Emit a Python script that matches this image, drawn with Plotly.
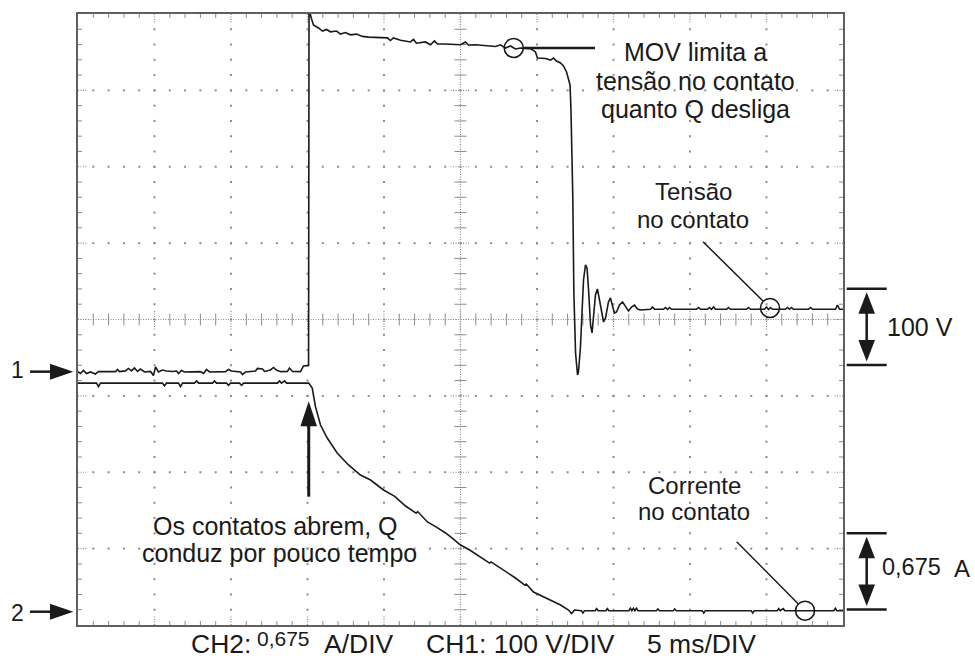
import plotly.graph_objects as go

# ---------------------------------------------------------------------------
# Scope settings
# ---------------------------------------------------------------------------
MS_PER_DIV = 5          # time base
V_PER_DIV = 100         # CH1 (voltage across the contact)
A_PER_DIV = 0.675       # CH2 (current through the contact)
X_DIVS, Y_DIVS, SUBDIV = 10, 8, 5
CH1_POS_DIV = -0.683    # CH1 ground marker, in divisions from screen centre
CH2_POS_DIV = -3.826    # CH2 ground marker

# CH1: voltage across the contact (ms, V)
ch1_t = [0.00, 0.16, 0.36, 0.56, 0.82, 1.14, 1.34, 2.45, 2.58, 2.71, 3.10, 3.30,
         3.50, 3.69, 3.89, 4.08, 4.35, 4.74, 4.93, 5.07, 5.26, 5.52, 5.78, 6.18,
         6.44, 6.57, 6.76, 6.96, 8.00, 8.20, 8.40, 8.60, 9.64, 9.84, 10.03, 10.62,
         10.75, 10.95, 11.60, 11.73, 12.06, 12.19, 12.58, 12.78, 12.97, 13.24, 13.69,
         13.82, 14.02, 14.54, 14.74, 15.07, 15.10, 15.16, 15.20, 15.39, 15.72, 15.98,
         16.24, 16.50, 16.90, 17.16, 17.48, 17.81, 18.20, 18.59, 18.99, 19.77, 20.23,
         20.42, 20.62, 21.08, 21.73, 21.93, 22.12, 22.71, 23.04, 23.30, 23.50, 24.02,
         25.00, 25.33, 25.52, 25.98, 26.96, 27.29, 27.61, 27.94, 28.27, 28.59, 28.92,
         29.58, 29.90, 30.03, 30.56, 30.88, 31.08, 31.27, 31.54, 31.73, 31.93, 32.06,
         32.16, 32.22, 32.34, 32.41, 32.52, 32.65, 32.71, 32.84, 32.97, 33.04, 33.17,
         33.27, 33.37, 33.50, 33.60, 33.69, 33.82, 33.95, 34.08, 34.22, 34.35, 34.48,
         34.67, 34.80, 34.93, 35.06, 35.20, 35.39, 35.59, 35.78, 35.98, 36.18, 36.37,
         36.57, 36.76, 37.42, 37.55, 37.68, 38.27, 38.40, 38.53, 38.66, 38.79, 40.43,
         40.56, 40.69, 41.14, 41.27, 41.40, 41.54, 41.67, 42.39, 42.52, 42.65, 43.69,
         43.82, 43.95, 44.87, 45.00, 45.13, 45.26, 45.39, 46.24, 46.37, 46.50, 46.63,
         46.76, 47.75, 47.88, 48.01, 49.51, 49.64, 49.77, 50.00]
ch1_v = [0.0, -2.4, 1.6, -2.4, -0.4, -3.0, 0.3, 0.0, 2.9, 0.0, 1.0, 4.2,
         1.0, 4.8, 0.3, 3.5, -0.4, 0.3, -5.0, 6.2, -0.4, 2.2, 0.9, 0.3,
         0.9, -2.4, 1.6, -0.4, 0.0, -2.4, 2.9, -0.4, 0.0, 2.9, 0.9, -0.4,
         -3.7, -0.4, 0.9, 4.2, 3.5, 0.3, 2.2, 5.5, 2.2, 0.0, 0.3,
         4.8, 0.3, 0.0, 7.5, 8.1, 475.0, 472.0, 466.0, 454.0, 450.0, 446.0,
         448.0, 445.0, 446.0, 442.0, 444.0, 441.0, 442.0, 439.0, 438.0, 437.5, 437.0,
         433.6, 437.0, 434.0, 431.7, 435.0, 430.0, 431.7, 428.0, 433.0, 429.0, 429.0,
         428.0, 431.7, 427.7, 428.0, 426.4, 425.8, 428.0, 423.8, 426.4, 422.5, 423.8,
         423.0, 418.6, 410.7, 410.0, 408.0, 410.7, 406.8, 404.2, 400.3, 392.4, 384.5,
         375.4, 342.6, 228.7, 103.0, 24.5, -4.3, -0.4, 32.3, 93.9, 120.0, 139.7,
         135.8, 107.0, 61.0, 50.7, 67.8, 100.4, 108.3, 93.9, 74.2, 65.0, 70.3,
         91.3, 96.5, 87.3, 76.8, 78.1, 87.3, 91.3, 86.0, 79.5, 84.7, 87.3,
         82.1, 80.8, 81.7, 84.7, 81.7, 81.7, 84.0, 81.4, 84.0, 81.7, 81.7,
         84.0, 81.7, 81.7, 84.0, 81.7, 84.7, 81.7, 81.7, 84.0, 81.7, 81.7,
         84.0, 81.7, 81.7, 84.7, 81.4, 84.0, 81.7, 81.7, 84.0, 81.7, 84.0,
         81.7, 81.7, 84.0, 81.7, 81.7, 87.3, 81.7, 81.7]

# CH2: current through the contact (ms, A)
ch2_t = [0.00, 1.21, 1.34, 1.47, 5.52, 5.65, 5.78, 6.57, 6.70, 6.83, 7.61, 7.75,
         7.88, 8.79, 8.92, 9.05, 9.71, 9.84, 9.97, 10.56, 10.69, 10.82, 13.04, 13.17,
         13.30, 13.50, 13.63, 15.08, 15.31, 15.52, 15.85, 16.29, 16.94, 17.68, 18.46,
         19.12, 19.97, 20.60, 20.70, 21.41, 22.10, 22.20, 22.84, 23.40, 24.02, 24.50,
         25.00, 25.60, 26.31, 26.90, 27.00, 27.61, 28.59, 29.20, 29.30, 29.77, 30.56,
         31.54, 32.06, 32.26, 32.45, 32.90, 33.00, 33.10, 33.80, 33.90, 34.00, 34.50,
         34.60, 34.70, 36.00, 36.10, 36.20, 36.30, 36.40, 36.50, 36.60, 37.80, 37.90,
         38.00, 38.90, 39.00, 39.10, 40.80, 40.90, 41.00, 44.00, 44.10, 44.20, 45.70,
         45.80, 45.90, 46.10, 46.20, 49.40, 49.50, 49.60, 50.00]
ch2_i = [2.02, 2.02, 1.99, 2.02, 2.02, 1.995, 2.02, 2.02, 1.99, 2.02, 2.02, 2.04,
         2.02, 2.02, 2.04, 2.02, 2.02, 2.00, 2.02, 2.02, 2.00, 2.02, 2.02, 2.04,
         2.02, 2.04, 2.02, 2.02, 1.977, 1.812, 1.650, 1.535, 1.403, 1.297, 1.208,
         1.164, 1.076, 1.030, 1.020, 0.934, 0.870, 0.885, 0.793, 0.750, 0.696, 0.645,
         0.589, 0.545, 0.483, 0.430, 0.440, 0.386, 0.298, 0.235, 0.245, 0.174, 0.121,
         0.059, 0.015, -0.016, 0.015, 0.009, -0.012, 0.009, 0.009, 0.027, 0.009, 0.009,
         0.027, 0.009, 0.009, 0.030, 0.009, 0.030, 0.009, 0.030, 0.009, 0.009, 0.024,
         0.009, 0.009, 0.024, 0.009, 0.009, -0.012, 0.009, 0.009, -0.012, 0.009, 0.009,
         0.027, 0.009, 0.027, 0.009, 0.009, 0.030, 0.009, 0.009]

MOV_TEXT = ["MOV limita a", "tensão no contato", "quanto Q desliga"]
VOLT_TEXT = ["Tensão", "no contato"]
CURR_TEXT = ["Corrente", "no contato"]
OPEN_TEXT = ["Os contatos abrem, Q", "conduz por pouco tempo"]
FOOTER = [("CH2:", 26.5), ("0,675", 21), ("A/DIV", 26.5), ("CH1: 100 V/DIV", 26.5), ("5 ms/DIV", 26.5)]

# ---------------------------------------------------------------------------
# Geometry helpers
# ---------------------------------------------------------------------------
W, H = 975, 661
ML, MR, MT, MB = 78, 132, 14, 36
PW, PH = W - ML - MR, H - MT - MB
T_RANGE = [0, X_DIVS * MS_PER_DIV]
Y_RANGE = [-Y_DIVS / 2, Y_DIVS / 2]
PX_MS = PW / (T_RANGE[1] - T_RANGE[0])
PX_DIV = PH / (Y_RANGE[1] - Y_RANGE[0])

FONT = "Arial, 'Liberation Sans', sans-serif"
INK = "#1a1a1a"
GRID = "#8c8c8c"


def to_px(t, d):
    return ML + (t - T_RANGE[0]) * PX_MS, MT + (Y_RANGE[1] - d) * PX_DIV


def paper(px, py):
    return (px - ML) / PW, (MT + PH - py) / PH


def interp(t, ts, vs):
    for k in range(1, len(ts)):
        if ts[k] >= t:
            f = (t - ts[k - 1]) / (ts[k] - ts[k - 1])
            return vs[k - 1] + f * (vs[k] - vs[k - 1])
    return vs[-1]


ch1_div = [CH1_POS_DIV + v / V_PER_DIV for v in ch1_v]
ch2_div = [CH2_POS_DIV + i / A_PER_DIV for i in ch2_i]

fig = go.Figure()

# ---------------------------------------------------------------------------
# Graticule
# ---------------------------------------------------------------------------
minor_t = MS_PER_DIV / SUBDIV
minor_d = 1 / SUBDIV
mid_t = (T_RANGE[0] + T_RANGE[1]) / 2

dots_x, dots_y = [], []
for i in range(1, X_DIVS):
    if i == X_DIVS // 2:
        continue
    for j in range(1, Y_DIVS * SUBDIV):
        dots_x.append(i * MS_PER_DIV)
        dots_y.append(Y_RANGE[0] + j * minor_d)
for k in range(1, Y_DIVS):
    if k == Y_DIVS // 2:
        continue
    for j in range(1, X_DIVS * SUBDIV):
        dots_x.append(j * minor_t)
        dots_y.append(Y_RANGE[0] + k)

tick_x, tick_y = [], []
major_x, major_y = [], []


def seg(xs, ys, x0, y0, x1, y1):
    xs += [x0, x1, None]
    ys += [y0, y1, None]


edge_t = 4 / PX_MS
edge_d = 4 / PX_DIV
long_t = 10 / PX_MS
long_d = 10 / PX_DIV
c_t = 6 / PX_MS
c_d = 6 / PX_DIV

for j in range(1, X_DIVS * SUBDIV):
    t = j * minor_t
    major = j % SUBDIV == 0
    if major:
        seg(major_x, major_y, t, Y_RANGE[1], t, Y_RANGE[1] - long_d)
        seg(major_x, major_y, t, Y_RANGE[0], t, Y_RANGE[0] + long_d)
        seg(major_x, major_y, t, -long_d, t, long_d)
    else:
        seg(tick_x, tick_y, t, Y_RANGE[1], t, Y_RANGE[1] - edge_d)
        seg(tick_x, tick_y, t, Y_RANGE[0], t, Y_RANGE[0] + edge_d)
        seg(tick_x, tick_y, t, -c_d, t, c_d)

for j in range(1, Y_DIVS * SUBDIV):
    d = Y_RANGE[0] + j * minor_d
    major = j % SUBDIV == 0
    if major:
        seg(major_x, major_y, T_RANGE[0], d, T_RANGE[0] + long_t, d)
        seg(major_x, major_y, T_RANGE[1], d, T_RANGE[1] - long_t, d)
        seg(major_x, major_y, mid_t - long_t, d, mid_t + long_t, d)
    else:
        seg(tick_x, tick_y, T_RANGE[0], d, T_RANGE[0] + edge_t, d)
        seg(tick_x, tick_y, T_RANGE[1], d, T_RANGE[1] - edge_t, d)
        seg(tick_x, tick_y, mid_t - c_t, d, mid_t + c_t, d)

centre_x, centre_y = [], []
seg(centre_x, centre_y, T_RANGE[0], 0, T_RANGE[1], 0)
seg(centre_x, centre_y, mid_t, Y_RANGE[0], mid_t, Y_RANGE[1])

fig.add_trace(go.Scatter(x=dots_x, y=dots_y, mode="markers", hoverinfo="skip",
                         marker=dict(symbol="square", size=2, color=GRID, line=dict(width=0))))
fig.add_trace(go.Scatter(x=tick_x, y=tick_y, mode="lines", hoverinfo="skip",
                         line=dict(color=GRID, width=1)))
fig.add_trace(go.Scatter(x=major_x, y=major_y, mode="lines", hoverinfo="skip",
                         line=dict(color=GRID, width=1.2, dash="1px,1.5px")))
fig.add_trace(go.Scatter(x=centre_x, y=centre_y, mode="lines", hoverinfo="skip",
                         line=dict(color=GRID, width=1.2, dash="1px,1.5px")))

# ---------------------------------------------------------------------------
# Waveforms
# ---------------------------------------------------------------------------
fig.add_trace(go.Scatter(x=ch1_t, y=ch1_div, mode="lines", name="CH1",
                         line=dict(color=INK, width=1.6)))
fig.add_trace(go.Scatter(x=ch2_t, y=ch2_div, mode="lines", name="CH2",
                         line=dict(color=INK, width=1.6)))

# circled points on the traces
T_MOV, T_VOLT, T_CURR = 28.48, 45.23, 47.52
circ_t = [T_MOV, T_VOLT, T_CURR]
circ_d = [CH1_POS_DIV + interp(T_MOV, ch1_t, ch1_v) / V_PER_DIV,
          CH1_POS_DIV + interp(T_VOLT, ch1_t, ch1_v) / V_PER_DIV,
          CH2_POS_DIV + interp(T_CURR, ch2_t, ch2_i) / A_PER_DIV]
fig.add_trace(go.Scatter(x=circ_t, y=circ_d, mode="markers", hoverinfo="skip",
                         marker=dict(symbol="circle-open", size=19, color=INK,
                                     line=dict(width=1.6, color=INK))))

# ---------------------------------------------------------------------------
# Callouts
# ---------------------------------------------------------------------------
shapes, annotations = [], []


def pline(x0, y0, x1, y1, width):
    a, b = paper(x0, y0)
    c, d = paper(x1, y1)
    shapes.append(dict(type="line", xref="paper", yref="paper", x0=a, y0=b, x1=c, y1=d,
                       line=dict(color=INK, width=width)))


def ptri(pts):
    pp = [paper(x, y) for x, y in pts]
    path = "M {} {} L {} {} L {} {} Z".format(*[v for p in pp for v in p])
    shapes.append(dict(type="path", xref="paper", yref="paper", path=path,
                       fillcolor=INK, line=dict(width=0)))


def label(text, px, py, size, anchor="center"):
    xp, yp = paper(px, py)
    annotations.append(dict(text=text, x=xp, y=yp, xref="paper", yref="paper",
                            xanchor=anchor, yanchor="middle", showarrow=False,
                            font=dict(family=FONT, size=size, color=INK)))


R = 9.5
circ_px = [to_px(t, d) for t, d in zip(circ_t, circ_d)]

# MOV clamp callout
cx, cy = circ_px[0]
pline(cx + R, cy, 595, cy, 2.5)
for txt, y in zip(MOV_TEXT, [51.7, 80.6, 108.6]):
    label(txt, 695, y, 25)


def leader(x0, y0, c):
    cx, cy = c
    dx, dy = cx - x0, cy - y0
    n = (dx * dx + dy * dy) ** 0.5
    pline(x0, y0, cx - dx / n * R, cy - dy / n * R, 1.5)


leader(703, 241.7, circ_px[1])
for txt, y in zip(VOLT_TEXT, [191.0, 219.2]):
    label(txt, 693, y, 24)

leader(736.7, 541.7, circ_px[2])
for txt, y in zip(CURR_TEXT, [485.0, 511.7]):
    label(txt, 694, y, 24)

# contacts open arrow, pointing at the start of the current decay
kx, ky = to_px(ch2_t[27], ch2_div[27])
tip_y = ky + 18
pline(kx, tip_y + 22, kx, 496.7, 3)
ptri([(kx, tip_y), (kx - 8.3, tip_y + 25), (kx + 8.3, tip_y + 25)])
label(OPEN_TEXT[0], 275, 526.4, 25)
label(OPEN_TEXT[1], 279.5, 553.1, 25)

# channel ground markers
for name, pos in (("1", CH1_POS_DIV), ("2", CH2_POS_DIV)):
    _, gy = to_px(0, pos)
    pline(30, gy, 52, gy, 2.5)
    ptri([(73.3, gy), (50, gy - 8), (50, gy + 8)])
    label(name, 17.5, gy - 1.5 if name == "1" else gy + 1.5, 23)


# scale brackets
def bracket(bottom):
    top = bottom - PX_DIV
    ax = 866.7
    pline(846.7, top, 886.7, top, 2.5)
    pline(846.7, bottom, 886.7, bottom, 2.5)
    pline(ax, top + 20, ax, bottom - 20, 2.5)
    ptri([(ax, top + 3.5), (ax - 8.3, top + 25), (ax + 8.3, top + 25)])
    ptri([(ax, bottom - 3.5), (ax - 8.3, bottom - 25), (ax + 8.3, bottom - 25)])
    return top, bottom


t1, b1 = bracket(365.0)
label("100 V", 920, (t1 + b1) / 2, 25)
t2, b2 = bracket(609.5)
label("0,675", 912, 566.7, 23.5)
label("A", 961.7, 568, 24)

# footer with the channel settings
footer_x = [189, 255, 322, 424, 645]
footer_y = [643.5, 638.0, 643.5, 643.5, 643.5]
for (txt, size), x, y in zip(FOOTER, footer_x, footer_y):
    label(txt, x, y, size, anchor="left")

fig.update_layout(
    width=W, height=H, autosize=False,
    margin=dict(l=ML, r=MR, t=MT, b=MB, pad=0),
    paper_bgcolor="white", plot_bgcolor="white",
    showlegend=False,
    xaxis=dict(range=T_RANGE, showgrid=False, zeroline=False, showticklabels=False,
               ticks="", showline=True, mirror=True, linecolor="#5f5f5f", linewidth=2,
               fixedrange=True),
    yaxis=dict(range=Y_RANGE, showgrid=False, zeroline=False, showticklabels=False,
               ticks="", showline=True, mirror=True, linecolor="#5f5f5f", linewidth=2,
               fixedrange=True),
    shapes=shapes,
    annotations=annotations,
)

fig.write_html("out.html", config={"displayModeBar": False})
